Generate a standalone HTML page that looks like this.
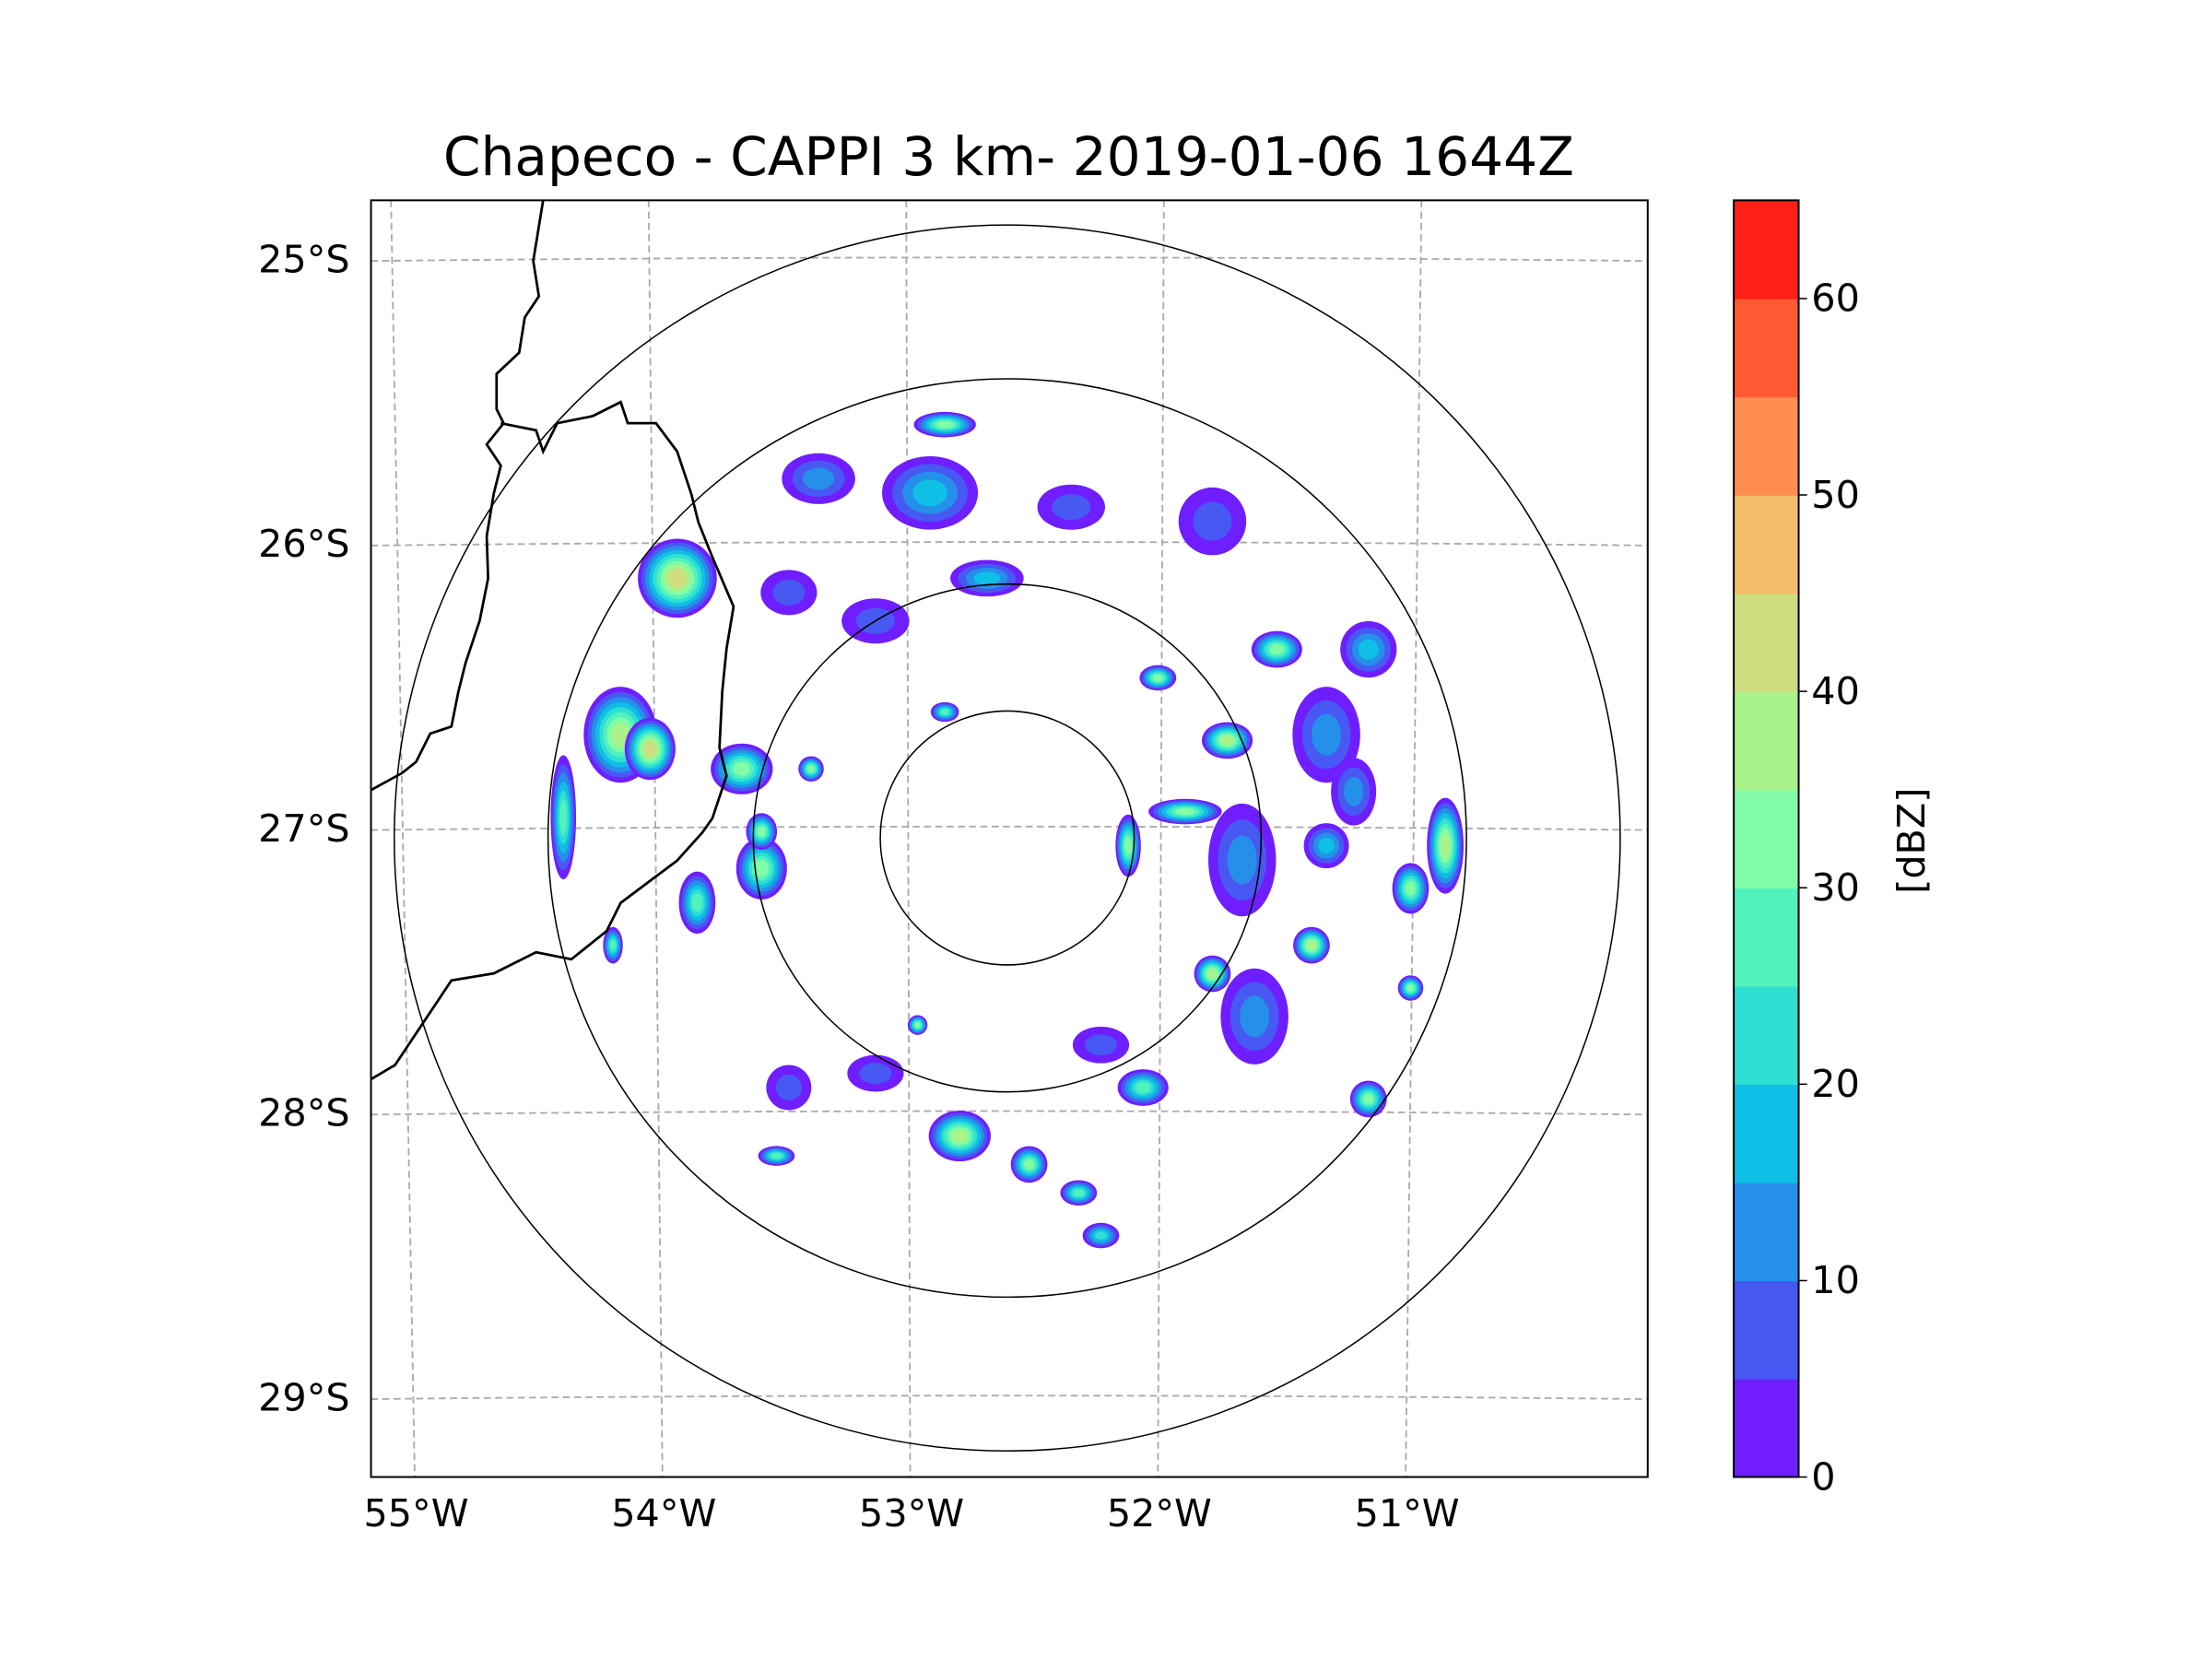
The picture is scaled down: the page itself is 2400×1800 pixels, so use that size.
<!DOCTYPE html>
<html><head><meta charset="utf-8">
<style>html,body{margin:0;padding:0;background:#fff}svg{display:block}</style>
</head><body>
<svg id="fig" width="2400" height="1800" viewBox="0 0 1568 1176" xmlns="http://www.w3.org/2000/svg" font-family="'DejaVu Sans','Liberation Sans',sans-serif">
<defs><clipPath id="ax"><rect x="263" y="142" width="905" height="905"/></clipPath></defs>
<rect width="1568" height="1176" fill="#fff"/>
<text x="715" y="124" font-size="38" text-anchor="middle">Chapeco - CAPPI 3 km- 2019-01-06 1644Z</text>
<g id="plot" clip-path="url(#ax)"></g>
<g id="rings" fill="none" stroke="#000" stroke-width="1">
<circle cx="714" cy="594" r="90"/><circle cx="714" cy="594" r="180"/><circle cx="714" cy="594" r="325.5"/><circle cx="714" cy="594" r="434.5"/>
</g>
<rect x="263" y="142" width="905" height="905" fill="none" stroke="#000" stroke-width="1.3"/>
<g id="ticks" font-size="27"></g>
<g id="cbar"></g>
</svg>
<script>
const NS="http://www.w3.org/2000/svg";
const latTicks=[25,26,27,28,29];
const lonTicks=[55,54,53,52,51];
const cbarLevels=[0,5,10,15,20,25,30,35,40,45,50,55,60,65];
const cbarColors=["#6e1eff","#4858f2","#2590ea","#0fbfe6","#30dfd3","#52f2bd","#82fca6","#aaf28a","#cfdc80","#f2be6a","#ff8c50","#ff5a32","#ff2016"];
const cbarTickLabels=[0,10,20,30,40,50,60];
const echoLon=[-53.94,-54.17,-54.40,-54.05,-53.68,-53.60,-53.86,-53.60,-52.86,-52.92,-53.37,-52.69,-52.00,-51.72,-51.52,-51.89,-52.12,-50.84,-50.98,-51.38,-51.78,-50.98,-51.15,-52.80,-52.52,-52.06,-52.32,-52.23,-53.54,-51.32,-51.15,-51.66,-51.61,-53.14,-53.49,-51.78,-52.35,-53.49,-53.14,-52.23,-52.86,-53.40,-54.20,-52.97,-51.21,-51.32];
const echoLat=[-26.12,-26.67,-26.96,-26.72,-26.79,-27.14,-27.26,-27.01,-25.58,-25.82,-25.77,-26.12,-26.47,-26.69,-26.37,-26.94,-27.06,-27.06,-27.21,-27.41,-27.51,-27.56,-27.95,-28.08,-28.18,-27.91,-28.28,-28.43,-28.15,-26.67,-26.37,-27.11,-27.66,-26.27,-26.17,-25.92,-25.87,-27.91,-27.86,-27.76,-26.59,-26.79,-27.41,-27.69,-26.87,-27.06];
const echoRx=[28,26,9,18,22,18,13,11,22,34,26,26,13,18,18,26,9,13,13,13,13,9,13,22,13,18,13,13,13,24,20,24,24,24,20,24,24,16,20,20,10,9,7,7,16,16];
const echoRy=[28,34,44,22,18,22,22,13,9,26,18,13,9,13,13,9,22,34,18,13,13,9,13,18,13,13,9,9,7,34,20,40,34,16,16,24,16,16,13,13,7,9,13,7,24,16];
const echoDbz=[40,35,25,40,30,30,25,30,30,15,10,15,30,35,30,30,30,35,30,35,35,30,30,35,30,25,25,20,25,10,15,10,10,5,5,5,5,5,5,5,25,30,25,30,10,15];
const border1=[[385,142],[378,185],[382,210],[372,225],[368,250],[352,265],[352,290],[357,300],[345,315],[355,330],[350,350],[345,380],[346,410],[340,440],[330,470],[325,490],[320,515],[305,520],[295,540],[285,548],[263,560]];
const border2=[[355,300],[380,305],[385,320],[395,300],[420,295],[440,285],[445,300],[465,300],[480,320],[490,350],[495,370],[505,395],[520,430],[515,460],[512,490],[510,530],[515,550],[505,580],[498,590],[480,610],[460,625],[440,640],[430,660],[405,680],[380,675],[350,690],[320,695],[310,710],[300,725],[290,740],[280,755],[263,765]];
function xLon(lon){return 294+(lon+55)*175.6;}
function yLat(lat){return 184+(-lat-25)*201.7;}
function yCb(v){return 1047-(v/65)*905;}
function mk(tag,attrs,parent){const e=document.createElementNS(NS,tag);for(const k in attrs)e.setAttribute(k,attrs[k]);parent.appendChild(e);return e;}
const plot=document.getElementById('plot');
const ticks=document.getElementById('ticks');
const cbar=document.getElementById('cbar');
latTicks.forEach(l=>{
  const y=yLat(-l);
  const p=mk('path',{d:`M263 ${y+1} Q715 ${y-4} 1168 ${y+1}`,fill:'none',stroke:'#aaa','stroke-width':1.2,'stroke-dasharray':'5,3'},plot);
  
  
  const t=mk('text',{x:248,y:y+9,'text-anchor':'end'},ticks);t.textContent=l+'°S';
  
  
});
lonTicks.forEach(l=>{
  const xb=xLon(-l);const xt=xb+(xb-715)*0.04;
  const p=mk('line',{x1:xt,y1:142,x2:xb,y2:1047,stroke:'#aaa','stroke-width':1.2,'stroke-dasharray':'5,3'},plot);
  
  
  const t=mk('text',{x:xb+1,y:1082,'text-anchor':'middle'},ticks);t.textContent=l+'°W';
  
  
});
for(let i=0;i<echoLon.length;i++){
  const cx=xLon(echoLon[i]),cy=yLat(echoLat[i]);
  const n=Math.floor(echoDbz[i]/5);
  for(let k=0;k<=n;k++){
    const f=1-k/(n+1)*0.85;
    const e=mk('ellipse',{cx:cx,cy:cy,rx:echoRx[i]*f,ry:echoRy[i]*f,fill:cbarColors[Math.min(k,12)]},plot);
    
    
  }
}
[border1,border2].forEach(b=>{
  const p=mk('polyline',{points:b.map(q=>q.join(',')).join(' '),fill:'none',stroke:'#000','stroke-width':1.8},plot);
  
  
});
for(let i=0;i<cbarColors.length;i++){
  const y1=yCb(cbarLevels[i+1]),y0=yCb(cbarLevels[i]);
  const r=mk('rect',{x:1229,y:y1,width:46,height:y0-y1+0.5,fill:cbarColors[i]},cbar);
  
  
}
const fr=mk('rect',{x:1229,y:142,width:46,height:905,fill:'none',stroke:'#000','stroke-width':1.3},cbar);


cbarTickLabels.forEach(v=>{
  const y=yCb(v);
  mk('line',{x1:1275,y1:y,x2:1281,y2:y,stroke:'#000','stroke-width':1},cbar);
  const t=mk('text',{x:1284,y:y+9,'font-size':27},cbar);t.textContent=v;
  
  
});
const ct=mk('text',{x:0,y:0,'font-size':27,'text-anchor':'middle',transform:'translate(1364,596) rotate(-90)'},cbar);
ct.textContent='[dBZ]';


</script>
</body></html>
